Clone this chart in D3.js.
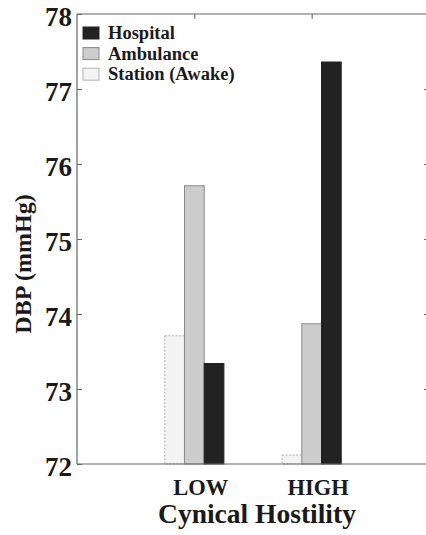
<!DOCTYPE html>
<html>
<head>
<meta charset="utf-8">
<script src="https://cdn.jsdelivr.net/npm/d3@7"></script>
<style>
  body { margin: 0; background: #fff; }
  svg { display: block; }
</style>
</head>
<body>
<div id="chart"></div>
<script>
// data
const categories = ["LOW", "HIGH"];
const series = ["Station (Awake)", "Ambulance", "Hospital"];
const legendOrder = ["Hospital", "Ambulance", "Station (Awake)"];
const stationValues = [73.71, 72.12];
const ambulanceValues = [75.71, 73.87];
const hospitalValues = [73.34, 77.36];
const yTicks = [72, 73, 74, 75, 76, 77, 78];

const values = {
  "Station (Awake)": stationValues,
  "Ambulance": ambulanceValues,
  "Hospital": hospitalValues
};

const fills = { "Station (Awake)": "#f3f3f3", "Ambulance": "#cdcdcd", "Hospital": "#222" };
const strokes = { "Station (Awake)": "#b4b4b4", "Ambulance": "#8a8a8a", "Hospital": "#222" };
const FONT = "'Liberation Serif', 'Times New Roman', 'DejaVu Serif', serif";

const width = 426, height = 535;
const plotL = 77, plotR = 429, plotT = 14, plotB = 464;

const svg = d3.select("#chart").append("svg")
  .attr("width", width)
  .attr("height", height)
  .attr("font-family", FONT)
  .attr("font-weight", "bold");

const x = d3.scalePoint().domain(categories).range([plotL, plotR]).padding(1);
const y = d3.scaleLinear().domain([72, 78]).range([plotB, plotT]);
const barW = 19.7;
const inner = d3.scaleBand().domain(series).range([-barW * 1.5, barW * 1.5]);

// bars
series.forEach(s => {
  svg.append("g").selectAll("rect")
    .data(categories.map((c, i) => ({ c, v: values[s][i] })))
    .enter()
    .append("rect")
    .attr("x", d => x(d.c) + inner(s))
    .attr("y", d => y(d.v))
    .attr("width", inner.bandwidth())
    .attr("height", d => y(72) - y(d.v))
    .attr("fill", fills[s])
    .attr("stroke", strokes[s])
    .attr("stroke-width", 1)
    .attr("stroke-dasharray", s === "Station (Awake)" ? "2,1.5" : null);
});

// frame
const frame = svg.append("g").attr("stroke", "#666").attr("stroke-width", 1.2).attr("fill", "none");
frame.append("line").attr("x1", plotL).attr("x2", plotR).attr("y1", plotT).attr("y2", plotT);
frame.append("line").attr("x1", plotL).attr("x2", plotR).attr("y1", plotB).attr("y2", plotB);
frame.append("line").attr("x1", plotL).attr("x2", plotL).attr("y1", plotT).attr("y2", plotB);
frame.append("line").attr("x1", plotR).attr("x2", plotR).attr("y1", plotT).attr("y2", plotB);

function styleText(sel, size) {
  sel.style("font-family", FONT)
    .style("font-weight", "bold")
    .style("font-size", size)
    .attr("fill", "#1a1a1a");
}

// left axis (ticks inward), labels sit a little below their tick
const yAxis = svg.append("g")
  .attr("transform", `translate(${plotL},0)`)
  .call(d3.axisLeft(y).tickValues(yTicks).tickFormat(d3.format("d")).tickSizeInner(-5).tickSizeOuter(0).tickPadding(5));
yAxis.select(".domain").remove();
yAxis.selectAll("line").attr("stroke", "#666");
styleText(yAxis.selectAll("text"), "27px");
yAxis.selectAll("text").attr("dy", "0.43em");

// right axis ticks
const yAxisR = svg.append("g")
  .attr("transform", `translate(${plotR},0)`)
  .call(d3.axisRight(y).tickValues(yTicks.slice(1, -1)).tickSizeInner(-5).tickSizeOuter(0).tickFormat(""));
yAxisR.select(".domain").remove();
yAxisR.selectAll("line").attr("stroke", "#666");

// top ticks at group centres
const xTop = svg.append("g")
  .attr("transform", `translate(0,${plotT})`)
  .call(d3.axisTop(x).tickSizeInner(-5).tickSizeOuter(0).tickFormat(""));
xTop.select(".domain").remove();
xTop.selectAll("line").attr("stroke", "#666");

// bottom category labels
const xAxis = svg.append("g")
  .attr("transform", `translate(0,${plotB})`)
  .call(d3.axisBottom(x).tickSize(0).tickPadding(0));
xAxis.select(".domain").remove();
styleText(xAxis.selectAll("text"), "22.5px");
xAxis.selectAll("text").attr("y", 31).attr("dy", 0).attr("dx", 6);

// axis titles
const xTitle = svg.append("text")
  .attr("x", 257)
  .attr("y", 523)
  .attr("text-anchor", "middle")
  .text("Cynical Hostility");
styleText(xTitle, "27.5px");

const yTitle = svg.append("text")
  .attr("transform", "translate(31,264) rotate(-90)")
  .attr("text-anchor", "middle")
  .text("DBP (mmHg)");
styleText(yTitle, "24px");

// legend
const legend = svg.append("g").attr("transform", "translate(83,27)");
legendOrder.forEach((s, i) => {
  const g = legend.append("g").attr("transform", `translate(0,${i * 20.6})`);
  g.append("rect")
    .attr("width", 16).attr("height", 12)
    .attr("fill", fills[s])
    .attr("stroke", strokes[s])
    .attr("stroke-width", 1);
  const t = g.append("text")
    .attr("x", 25)
    .attr("y", 12)
    .text(s);
  styleText(t, "18.5px");
});
</script>
</body>
</html>
